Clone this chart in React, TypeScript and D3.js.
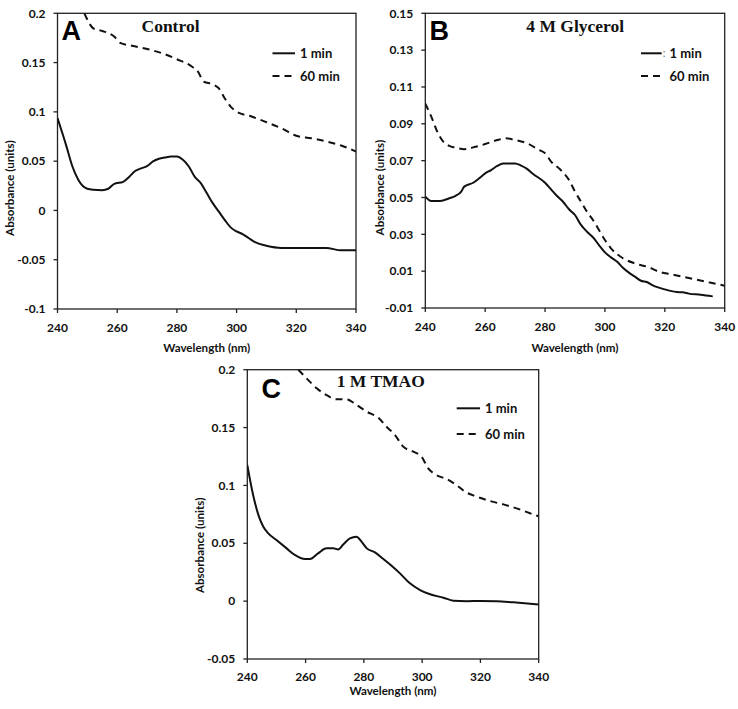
import React from "react";
import * as d3 from "d3";

// ---------- Data ----------
// Panel A: Control
const wlA1 = [240, 243, 245, 247, 250, 252, 255, 257, 259, 262, 264, 266, 268, 270, 272, 274, 276, 278, 280, 282, 284, 286, 288, 290, 292, 294, 296, 298, 300, 302, 304, 306, 310, 315, 320, 325, 330, 335, 340];
const absA1 = [0.0936, 0.065, 0.0446, 0.031, 0.022, 0.021, 0.0206, 0.022, 0.027, 0.029, 0.034, 0.04, 0.0426, 0.045, 0.0497, 0.0524, 0.0537, 0.0547, 0.0547, 0.0514, 0.0446, 0.034, 0.0277, 0.0176, 0.0074, -0.001, -0.0095, -0.0172, -0.0213, -0.024, -0.028, -0.032, -0.0358, -0.038, -0.038, -0.038, -0.038, -0.0405, -0.0405];
const wlA60 = [249, 252, 255, 257, 259, 261, 265, 270, 275, 280, 285, 287, 289, 292, 294, 296, 298, 300, 305, 310, 315, 320, 325, 330, 335, 340];
const absA60 = [0.2, 0.1848, 0.182, 0.18, 0.1764, 0.17, 0.167, 0.1638, 0.1595, 0.1534, 0.146, 0.141, 0.1307, 0.128, 0.124, 0.1138, 0.1054, 0.1003, 0.0953, 0.0895, 0.0834, 0.0757, 0.0733, 0.07, 0.0659, 0.0598];

// Panel B: 4 M Glycerol
const wlB1 = [240, 242, 245, 248, 250, 252, 253, 256, 258, 260, 262, 264, 266, 270, 272, 274, 276, 280, 282, 284, 286, 288, 290, 292, 294, 296, 298, 300, 302, 304, 306, 308, 310, 312, 314, 316, 320, 324, 326, 328, 332, 336];
const absB1 = [0.0505, 0.0481, 0.0481, 0.0496, 0.0508, 0.0532, 0.0559, 0.058, 0.0604, 0.0631, 0.0649, 0.0671, 0.0685, 0.0685, 0.0673, 0.0655, 0.0628, 0.058, 0.0544, 0.0508, 0.0477, 0.0436, 0.0405, 0.0351, 0.0314, 0.0284, 0.0242, 0.0202, 0.0175, 0.0152, 0.0119, 0.0092, 0.007, 0.0048, 0.0041, 0.0023, 0.0001, -0.0013, -0.0015, -0.0022, -0.0028, -0.0037];
const wlB60 = [240, 242, 244, 246, 248, 250, 253, 256, 260, 264, 267, 270, 274, 278, 280, 282, 285, 288, 290, 292, 294, 296, 298, 300, 302, 304, 306, 310, 315, 318, 322, 326, 330, 335, 340];
const absB60 = [0.101, 0.0939, 0.0857, 0.0803, 0.078, 0.0771, 0.0762, 0.0772, 0.079, 0.0812, 0.0821, 0.0812, 0.0794, 0.0758, 0.074, 0.0695, 0.0653, 0.0595, 0.0532, 0.0477, 0.0423, 0.0378, 0.0324, 0.0269, 0.0224, 0.0193, 0.017, 0.0142, 0.0119, 0.0097, 0.0083, 0.007, 0.0056, 0.0038, 0.0021];

// Panel C: 1 M TMAO
const wlC1 = [240, 242, 244, 245.5, 247.2, 250, 253.5, 256.3, 259.8, 261.5, 264.3, 267.2, 269.5, 271.2, 273, 275.2, 277.5, 279.2, 281, 283.8, 286.7, 289.5, 292.4, 295.8, 299.3, 302.7, 307.3, 310.7, 315.3, 320, 325.6, 331.3, 340];
const absC1 = [0.1176, 0.0917, 0.073, 0.0643, 0.0586, 0.0528, 0.0456, 0.0399, 0.0364, 0.0364, 0.0413, 0.0456, 0.0456, 0.0447, 0.0491, 0.0542, 0.0557, 0.0514, 0.0456, 0.0422, 0.0364, 0.0306, 0.024, 0.0154, 0.0096, 0.0059, 0.003, 0.0004, 0.0, 0.0002, 0.0, -0.001, -0.0028];
const wlC60 = [257.5, 259.8, 263.8, 267.2, 270.7, 274.1, 277.5, 281, 285, 287.8, 290.7, 293.5, 297, 299.8, 302.1, 304.9, 308.4, 311.8, 314.7, 318.7, 323.3, 327.9, 332.4, 337, 340];
const absC60 = [0.2, 0.194, 0.184, 0.178, 0.1744, 0.1744, 0.1695, 0.1637, 0.1585, 0.1507, 0.1435, 0.1335, 0.1291, 0.1248, 0.1147, 0.109, 0.1055, 0.1003, 0.0946, 0.0903, 0.0865, 0.0836, 0.0802, 0.0759, 0.0733];

const xTicks = [240, 260, 280, 300, 320, 340];
const yTicksA = [-0.1, -0.05, 0, 0.05, 0.1, 0.15, 0.2];
const yTicksB = [-0.01, 0.01, 0.03, 0.05, 0.07, 0.09, 0.11, 0.13, 0.15];
const yTicksC = [-0.05, 0, 0.05, 0.1, 0.15, 0.2];
const seriesLabels = ["1 min", "60 min"];
const panelLetters = ["A", "B", "C"];
const panelTitles = ["Control", "4 M Glycerol", "1 M TMAO"];

type Panel = {
  letter: string;
  title: string;
  left: number; top: number; right: number; bottom: number;
  yTicks: number[];
  s1: [number[], number[]];
  s60: [number[], number[]];
  titleX: number; titleY: number;
  letterX: number; letterY: number;
  legX0: number; legX1: number; legTextX: number; legY1: number; legY2: number;
  xTickDy: number; xTitleDy: number; yTitleX: number; yTitleDy: number;
  colon?: boolean;
};

const panels: Panel[] = [
  {
    letter: panelLetters[0], title: panelTitles[0],
    left: 57.5, top: 13.3, right: 356, bottom: 309,
    yTicks: yTicksA, s1: [wlA1, absA1], s60: [wlA60, absA60],
    titleX: 141.5, titleY: 31.5, letterX: 61.5, letterY: 40,
    legX0: 272.5, legX1: 295, legTextX: 300, legY1: 53.3, legY2: 76,
    xTickDy: 22.5, xTitleDy: 43, yTitleX: 10, yTitleDy: 27,
  },
  {
    letter: panelLetters[1], title: panelTitles[1],
    left: 425.3, top: 13.3, right: 724.7, bottom: 308,
    yTicks: yTicksB, s1: [wlB1, absB1], s60: [wlB60, absB60],
    titleX: 526.3, titleY: 31.5, letterX: 429.5, letterY: 39.5,
    legX0: 641, legX1: 661.7, legTextX: 669.5, legY1: 53.3, legY2: 76,
    xTickDy: 22.5, xTitleDy: 43.5, yTitleX: 379.7, yTitleDy: 27, colon: true,
  },
  {
    letter: panelLetters[2], title: panelTitles[2],
    left: 247.3, top: 369.7, right: 538.7, bottom: 659,
    yTicks: yTicksC, s1: [wlC1, absC1], s60: [wlC60, absC60],
    titleX: 336.7, titleY: 387.3, letterX: 261.5, letterY: 398.3,
    legX0: 456.7, legX1: 480, legTextX: 485, legY1: 408.3, legY2: 434,
    xTickDy: 21.5, xTitleDy: 35.5, yTitleX: 200, yTitleDy: 31,
  },
];

const SANS = "Lato, 'Open Sans', sans-serif";
const SERIF = "'Liberation Serif', 'Times New Roman', serif";
const DASH = "7,5";
const TICK_FS = 12;
const TITLE_FS = 11.6;

function fmt(v: number) {
  return String(+v.toFixed(3));
}

function PanelView({ p }: { p: Panel }) {
  const x = d3.scaleLinear().domain([240, 340]).range([p.left, p.right]);
  const y = d3.scaleLinear().domain([p.yTicks[0], p.yTicks[p.yTicks.length - 1]]).range([p.bottom, p.top]);
  const line = d3
    .line<[number, number]>()
    .x((d) => x(d[0]))
    .y((d) => y(d[1]))
    .curve(d3.curveMonotoneX);
  const pts = (s: [number[], number[]]) => s[0].map((w, i) => [w, s[1][i]] as [number, number]);
  const cx = (p.left + p.right) / 2;
  const cy = (p.top + p.bottom) / 2;
  return (
    <g>
      <rect x={p.left} y={p.top} width={p.right - p.left} height={p.bottom - p.top} fill="none" stroke="#222" strokeWidth={1.3} />
      {p.yTicks.map((t) => (
        <g key={"y" + t}>
          <line x1={p.left - 4} x2={p.left} y1={y(t)} y2={y(t)} stroke="#222" strokeWidth={1.3} />
          <text x={p.left - 12} y={y(t)} dy="0.35em" textAnchor="end" fontFamily={SANS} fontWeight={700} fontSize={TICK_FS} fill="#111">
            {fmt(t)}
          </text>
        </g>
      ))}
      {xTicks.map((t) => (
        <g key={"x" + t}>
          <line x1={x(t)} x2={x(t)} y1={p.bottom} y2={p.bottom + 4} stroke="#222" strokeWidth={1.3} />
          <text x={x(t)} y={p.bottom + p.xTickDy} textAnchor="middle" fontFamily={SANS} fontWeight={700} fontSize={TICK_FS} fill="#111">
            {t}
          </text>
        </g>
      ))}
      <text x={cx} y={p.bottom + p.xTitleDy} textAnchor="middle" fontFamily={SANS} fontWeight={700} fontSize={TITLE_FS} fill="#111">
        Wavelength (nm)
      </text>
      <text
        transform={`translate(${p.yTitleX},${cy + p.yTitleDy}) rotate(-90)`}
        textAnchor="middle"
        dy="0.35em"
        fontFamily={SANS}
        fontWeight={700}
        fontSize={TITLE_FS}
        fill="#111"
      >
        Absorbance (units)
      </text>
      <defs>
        <clipPath id={"clip" + p.letter}>
          <rect x={p.left} y={p.top} width={p.right - p.left} height={p.bottom - p.top} />
        </clipPath>
      </defs>
      <g clipPath={`url(#clip${p.letter})`}>
        <path d={line(pts(p.s1)) || ""} fill="none" stroke="#111" strokeWidth={2} />
        <path d={line(pts(p.s60)) || ""} fill="none" stroke="#111" strokeWidth={2} strokeDasharray={DASH} />
      </g>
      <text x={p.letterX} y={p.letterY} fontFamily="'Liberation Sans', Arial, sans-serif" fontWeight={700} fontSize={27} fill="#000">
        {p.letter}
      </text>
      <text x={p.titleX} y={p.titleY} fontFamily={SERIF} fontWeight={700} fontSize={17.5} fill="#111">
        {p.title}
      </text>
      <line x1={p.legX0} x2={p.legX1} y1={p.legY1} y2={p.legY1} stroke="#111" strokeWidth={2} />
      <line x1={p.legX0} x2={p.legX1} y1={p.legY2} y2={p.legY2} stroke="#111" strokeWidth={2} strokeDasharray={DASH} />
      {p.colon && (
        <text x={p.legX1 + 1} y={p.legY1} dy="0.35em" fontFamily={SANS} fontSize={11} fill="#777">
          :
        </text>
      )}
      <text x={p.legTextX} y={p.legY1} dy="0.36em" fontFamily={SANS} fontWeight={700} fontSize={13} fill="#111">
        {seriesLabels[0]}
      </text>
      <text x={p.legTextX} y={p.legY2} dy="0.36em" fontFamily={SANS} fontWeight={700} fontSize={13} fill="#111">
        {seriesLabels[1]}
      </text>
    </g>
  );
}

export default function App() {
  return (
    <svg width={738} height={709} style={{ position: "absolute", left: 0, top: 0, background: "#fff" }}>
      <rect width={738} height={709} fill="#fff" />
      {panels.map((p) => (
        <PanelView key={p.letter} p={p} />
      ))}
    </svg>
  );
}
